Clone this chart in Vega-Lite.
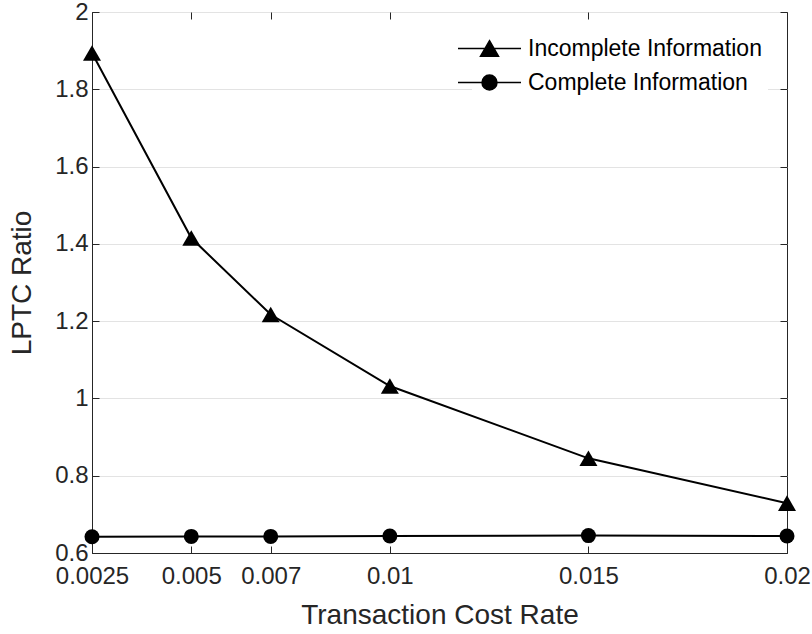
{
  "$schema": "https://vega.github.io/schema/vega-lite/v6.json",
  "width": 695,
  "height": 541,
  "autosize": "none",
  "padding": {"left": 92, "top": 12, "right": 25, "bottom": 81},
  "background": "white",
  "config": {
    "font": "Liberation Sans",
    "view": {"stroke": "#262626", "strokeWidth": 1},
    "axis": {
      "domainColor": "#262626",
      "tickColor": "#262626",
      "labelColor": "#262626",
      "titleColor": "#262626",
      "labelFont": "Liberation Sans",
      "titleFont": "Liberation Sans",
      "labelFontSize": 24,
      "titleFontSize": 28,
      "titleFontWeight": "normal",
      "tickSize": -7,
      "labelFlush": false,
      "labelOverlap": false,
      "gridColor": "#e3e3e3",
      "gridWidth": 1
    },
    "legend": {
      "orient": "top-right",
      "offset": 19,
      "padding": 6,
      "fillColor": "white",
      "strokeColor": null,
      "labelFont": "Liberation Sans",
      "labelFontSize": 23,
      "labelColor": "#000000",
      "labelLimit": 0,
      "symbolSize": 441,
      "symbolStrokeWidth": 1.5,
      "symbolFillColor": "#000000",
      "symbolOpacity": 1,
      "labelOffset": 27,
      "rowPadding": 10,
      "title": null
    }
  },
  "datasets": {
    "pts": [
      {"rate": 0.0025, "ratio": 1.894, "series": "Incomplete Information"},
      {"rate": 0.005, "ratio": 1.415, "series": "Incomplete Information"},
      {"rate": 0.007, "ratio": 1.217, "series": "Incomplete Information"},
      {"rate": 0.01, "ratio": 1.032, "series": "Incomplete Information"},
      {"rate": 0.015, "ratio": 0.845, "series": "Incomplete Information"},
      {"rate": 0.02, "ratio": 0.729, "series": "Incomplete Information"},
      {"rate": 0.0025, "ratio": 0.642, "series": "Complete Information"},
      {"rate": 0.005, "ratio": 0.643, "series": "Complete Information"},
      {"rate": 0.007, "ratio": 0.643, "series": "Complete Information"},
      {"rate": 0.01, "ratio": 0.644, "series": "Complete Information"},
      {"rate": 0.015, "ratio": 0.645, "series": "Complete Information"},
      {"rate": 0.02, "ratio": 0.644, "series": "Complete Information"}
    ]
  },
  "data": {"name": "pts"},
  "layer": [
    {
      "mark": {"type": "line", "color": "#000000", "strokeWidth": 2},
      "encoding": {
        "x": {
          "field": "rate", "type": "quantitative",
          "scale": {"domain": [0.0025, 0.02], "nice": false, "zero": false},
          "axis": {
            "orient": "bottom",
            "values": [0.0025, 0.005, 0.007, 0.01, 0.015, 0.02],
            "format": "~g",
            "grid": false,
            "labelPadding": 18,
            "title": "Transaction Cost Rate",
            "titlePadding": 13
          }
        },
        "y": {
          "field": "ratio", "type": "quantitative",
          "scale": {"domain": [0.6, 2], "nice": false, "zero": false},
          "axis": {
            "orient": "left",
            "values": [0.6, 0.8, 1, 1.2, 1.4, 1.6, 1.8, 2],
            "format": "~g",
            "grid": true,
            "labelPadding": 11,
            "title": "LPTC Ratio",
            "titlePadding": 18
          }
        },
        "detail": {"field": "series"}
      }
    },
    {
      "mark": {"type": "point", "filled": true, "opacity": 1, "color": "#000000"},
      "encoding": {
        "x": {
          "field": "rate", "type": "quantitative",
          "axis": {
            "orient": "top",
            "values": [0.0025, 0.005, 0.007, 0.01, 0.015, 0.02],
            "labels": false, "grid": false, "title": null, "domain": false
          }
        },
        "y": {
          "field": "ratio", "type": "quantitative",
          "axis": {
            "orient": "right",
            "values": [0.6, 0.8, 1, 1.2, 1.4, 1.6, 1.8, 2],
            "labels": false, "grid": false, "title": null, "domain": false
          }
        },
        "shape": {
          "field": "series", "type": "nominal",
          "scale": {"domain": ["Incomplete Information", "Complete Information"], "range": ["triangle-up", "circle"]},
          "legend": null
        },
        "size": {
          "field": "series", "type": "nominal",
          "scale": {"domain": ["Incomplete Information", "Complete Information"], "range": [324, 225]},
          "legend": null
        }
      }
    },
    {
      "transform": [{"filter": "false"}],
      "mark": {"type": "point", "filled": true, "opacity": 1, "fill": "#000000", "strokeWidth": 1.5},
      "encoding": {
        "x": {"field": "rate", "type": "quantitative", "axis": null},
        "y": {"field": "ratio", "type": "quantitative", "axis": null},
        "shape": {
          "field": "series", "type": "nominal",
          "scale": {
            "domain": ["Incomplete Information", "Complete Information"],
            "range": [
              "M-3,0H3M0,-0.74L0.857,0.74L-0.857,0.74Z",
              "M-3,0H3M-0.714,0A0.714,0.714,0,1,0,0.714,0A0.714,0.714,0,1,0,-0.714,0Z"
            ]
          },
          "legend": {"labelLimit": 0, "title": null}
        },
        "stroke": {
          "field": "series", "type": "nominal",
          "scale": {
            "domain": ["Incomplete Information", "Complete Information"],
            "range": ["#000000", "#000000"]
          },
          "legend": {"labelLimit": 0, "title": null}
        }
      }
    }
  ],
  "resolve": {
    "scale": {"shape": "independent", "size": "independent", "stroke": "independent"},
    "axis": {"x": "independent", "y": "independent"}
  }
}
